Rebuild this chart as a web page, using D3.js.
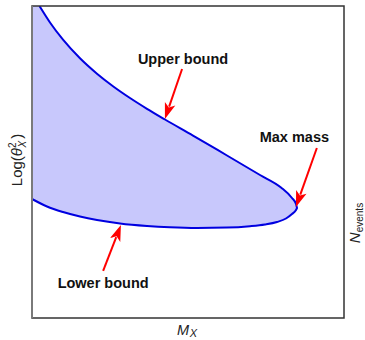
<!DOCTYPE html>
<html>
<head>
<meta charset="utf-8">
<script src="https://cdn.jsdelivr.net/npm/d3@7"></script>
<style>
  html, body { margin: 0; padding: 0; background: #fff; }
  svg { display: block; }
  text { font-family: "Liberation Sans", Arial, Helvetica, sans-serif; }
</style>
</head>
<body>
<svg id="chart" width="365" height="340"></svg>
<script>
// ---- data (normalized units: x 0..100 = M_X, y 0..100 = Log(theta^2)) ----
const upperX = [2.40, 5.77, 9.94, 15.38, 20.83, 25.96, 31.41, 36.86, 42.63, 51.60, 62.50, 73.08, 79.81, 83.33, 84.62, 84.94];
const upperY = [100.0, 94.71, 89.20, 83.24, 78.30, 74.29, 70.51, 67.05, 63.62, 58.49, 52.08, 45.83, 41.83, 38.46, 36.54, 35.26];
const lowerX = [0, 4.81, 9.94, 15.38, 20.83, 28.21, 36.86, 44.23, 52.88, 62.50, 69.87, 74.68, 78.53, 81.41, 83.33, 84.62, 84.94];
const lowerY = [38.14, 35.74, 33.97, 32.53, 31.41, 30.29, 29.49, 29.07, 28.85, 28.97, 29.42, 29.97, 30.77, 31.89, 33.33, 34.62, 35.26];

const annLabels = ["Upper bound", "Max mass", "Lower bound"];
const annLabelX = [48.4, 84.1, 22.8];
const annLabelY = [83.0, 58.0, 11.2];
const annTailX = [48.1, 91.3, 22.8];
const annTailY = [79.8, 54.5, 15.1];
const annTipX  = [42.6, 84.6, 28.5];
const annTipY  = [63.8, 35.6, 29.8];

(function () {
const svg = d3.select("#chart");
const mLeft = 32, mRight = 344, mTop = 6, mBottom = 318;
const x = d3.scaleLinear().domain([0, 100]).range([mLeft, mRight]);
const y = d3.scaleLinear().domain([0, 100]).range([mBottom, mTop]);

const upper = upperX.map((v, i) => [v, upperY[i]]);
const lower = lowerX.map((v, i) => [v, lowerY[i]]);
const lowerRev = lower.slice().reverse();

svg.append("clipPath").attr("id", "plotclip")
  .append("rect").attr("x", mLeft).attr("y", mTop).attr("width", mRight - mLeft).attr("height", mBottom - mTop);

const lineGen = d3.line().x(d => x(d[0])).y(d => y(d[1])).curve(d3.curveMonotoneX);

const g = svg.append("g").attr("clip-path", "url(#plotclip)");

const upPath = lineGen(upper);
const lowRevPath = lineGen(lowerRev);
const fillPath = "M" + x(0) + "," + y(100) + "L" + upPath.slice(1) + "L" + lowRevPath.slice(1) + "Z";
g.append("path").attr("d", fillPath).attr("fill", "#c8c8fc").attr("stroke", "none");

g.append("path").attr("d", upPath + "L" + lowRevPath.slice(1))
  .attr("fill", "none").attr("stroke", "#0000e0").attr("stroke-width", 2)
  .attr("stroke-linejoin", "round");

// frame
svg.append("rect").attr("x", mLeft).attr("y", mTop).attr("width", mRight - mLeft).attr("height", mBottom - mTop)
  .attr("fill", "none").attr("stroke", "#333").attr("stroke-width", 1.5);
svg.append("line").attr("x1", mLeft).attr("x2", mLeft).attr("y1", mTop).attr("y2", mBottom)
  .attr("stroke", "#7a7a7a").attr("stroke-width", 2);

// annotations
const headLen = 16, headHalf = 5.5;
annLabels.forEach((t, i) => {
  const x0 = x(annTailX[i]), y0 = y(annTailY[i]);
  const x1 = x(annTipX[i]), y1 = y(annTipY[i]);
  const dx = x1 - x0, dy = y1 - y0, L = Math.hypot(dx, dy);
  const ux = dx / L, uy = dy / L;
  const bx = x1 - ux * headLen, by = y1 - uy * headLen;
  svg.append("line").attr("x1", x0).attr("y1", y0).attr("x2", bx + ux * 3).attr("y2", by + uy * 3)
    .attr("stroke", "#ff0000").attr("stroke-width", 2);
  svg.append("path")
    .attr("d", `M${x1},${y1}L${bx - uy * headHalf},${by + ux * headHalf}L${bx + ux * 4},${by + uy * 4}L${bx + uy * headHalf},${by - ux * headHalf}Z`)
    .attr("fill", "#ff0000");
  svg.append("text").attr("x", x(annLabelX[i])).attr("y", y(annLabelY[i]))
    .attr("text-anchor", "middle").attr("dominant-baseline", "central")
    .attr("font-weight", "bold").attr("font-size", 14.5).attr("fill", "#111").text(t);
});

// axis labels
const yl = svg.append("text").attr("transform", "translate(22,160) rotate(-90)")
  .attr("text-anchor", "middle").attr("font-size", 15).attr("fill", "#222");
yl.append("tspan").text("Log(");
yl.append("tspan").attr("font-style", "italic").text("θ");
yl.append("tspan").attr("font-size", 10).attr("dy", -6).text("2");
yl.append("tspan").attr("font-size", 10).attr("font-style", "italic").attr("dy", 10).attr("dx", -5).text("X");
yl.append("tspan").attr("dy", -4).attr("dx", 2).text(")");

const xl = svg.append("text").attr("x", 187).attr("y", 335)
  .attr("text-anchor", "middle").attr("font-size", 14.5).attr("fill", "#222");
xl.append("tspan").attr("font-style", "italic").text("M");
xl.append("tspan").attr("font-style", "italic").attr("font-size", 11).attr("dy", 1.5).attr("dx", 0.5).text("X");

const nl = svg.append("text").attr("transform", "translate(360,223) rotate(-90)")
  .attr("text-anchor", "middle").attr("font-size", 15).attr("fill", "#222");
nl.append("tspan").attr("font-style", "italic").text("N");
nl.append("tspan").attr("font-size", 10).attr("dy", 3).text("events");
})();
</script>
</body>
</html>
